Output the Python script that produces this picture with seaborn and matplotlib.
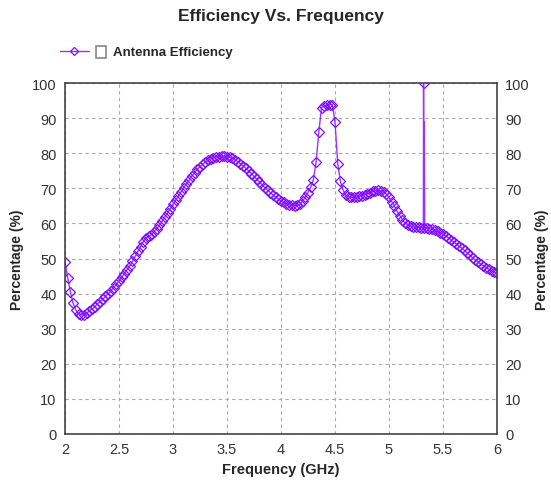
import numpy as np
import pandas as pd
import matplotlib
matplotlib.use('Agg')
import matplotlib.pyplot as plt
from matplotlib.patches import Rectangle
import seaborn as sns

# частотная сетка (ГГц) и КПД антенны (%)
freq = np.round(np.arange(2.0, 6.0001, 0.025), 3)
efficiency = [
    48.9, 44.5, 40.5, 37.2, 35.3, 34.3, 33.9, 34.0, 34.4, 35.0,
    35.6, 36.3, 37.0, 37.7, 38.4, 39.2, 40.0, 40.8, 41.7, 42.6,
    43.6, 44.6, 45.7, 46.8, 47.9, 49.2, 50.6, 52.0, 53.4, 54.8,
    55.8, 56.3, 56.8, 57.6, 58.5, 59.5, 60.6, 61.8, 63.0, 64.2,
    65.4, 66.6, 67.8, 69.0, 70.2, 71.3, 72.4, 73.5, 74.5, 75.4,
    76.2, 76.9, 77.5, 78.0, 78.4, 78.7, 78.9, 79.0, 79.1, 79.1,
    79.0, 78.8, 78.5, 78.1, 77.6, 77.0, 76.4, 75.7, 75.0, 74.2,
    73.4, 72.6, 71.8, 71.0, 70.2, 69.5, 68.8, 68.1, 67.5, 66.9,
    66.4, 66.0, 65.6, 65.3, 65.1, 65.0, 65.1, 65.5, 66.3, 67.5,
    68.8, 70.3, 72.5, 77.5, 86.0, 93.0, 93.5, 93.6, 93.8, 93.8,
    89.0, 77.0, 72.0, 69.5, 68.0, 67.5, 67.4, 67.4, 67.5, 67.7,
    67.9, 68.2, 68.5, 68.8, 69.1, 69.3, 69.4, 69.3, 69.0, 68.4,
    67.4, 66.2, 64.9, 63.5, 62.2, 61.0, 60.1, 59.5, 59.2, 59.0,
    58.9, 58.9, 58.8, 58.8, 58.7, 58.5, 58.3, 58.0, 57.7, 57.3,
    56.9, 56.4, 55.9, 55.3, 54.7, 54.1, 53.5, 52.9, 52.3, 51.6,
    50.9, 50.2, 49.6, 49.0, 48.4, 47.9, 47.4, 46.9, 46.5, 46.1,
    45.8,
]
# одиночный выброс около 5.32 ГГц
spike_freq = [5.318, 5.320, 5.323, 5.327, 5.331]
spike_eff = [58.8, 100.0, 68.0, 89.0, 58.8]

x_ticks = [2, 2.5, 3, 3.5, 4, 4.5, 5, 5.5, 6]
x_labels = ['2', '2.5', '3', '3.5', '4', '4.5', '5', '5.5', '6']
y_ticks = list(range(0, 101, 10))

df = pd.concat([
    pd.DataFrame({'Frequency': freq, 'Efficiency': efficiency, 'spike': False}),
    pd.DataFrame({'Frequency': spike_freq, 'Efficiency': spike_eff, 'spike': True}),
]).sort_values('Frequency').reset_index(drop=True)
# на выбросе маркер только у вершины
df.loc[df['spike'] & (df['Efficiency'] == 100.0), 'spike'] = False
show_marker = list(df.index[~df['spike']])

sns.set_style('white')
plt.rcParams['font.family'] = ['Liberation Sans', 'DejaVu Sans']

purple = '#9933ff'
fig = plt.figure(figsize=(5.51, 4.85), dpi=100)
ax = fig.add_axes([65 / 551, 50 / 485, 432 / 551, 351 / 485])

sns.lineplot(data=df, x='Frequency', y='Efficiency', ax=ax, sort=False,
             color=purple, linewidth=1.0, marker='D', markersize=5.5,
             markerfacecolor='none', markeredgecolor='#8010ff',
             markeredgewidth=0.9, label='Antenna Efficiency')
ax.lines[0].set_markevery(show_marker)

ax.set_xlim(2, 6)
ax.set_ylim(0, 100)
ax.set_xticks(x_ticks)
ax.set_xticklabels(x_labels)
ax.set_yticks(y_ticks)
ax.grid(True, color='#aaaaaa', linestyle=(0, (3, 3)), linewidth=0.8)
ax.tick_params(length=0, labelsize=10.5, colors='#333333', pad=6)
ax.tick_params(axis='y', labelright=True, right=True)
for sp in ax.spines.values():
    sp.set_color('#444444')
    sp.set_linewidth(1.2)

ax.set_xlabel('Frequency (GHz)', fontsize=10.5, fontweight='bold', labelpad=4)
ax.set_ylabel('Percentage (%)', fontsize=10, fontweight='bold', labelpad=6)
ax2 = ax.secondary_yaxis('right')
ax2.set_yticks([])
ax2.set_ylabel('Percentage (%)', fontsize=10, fontweight='bold', labelpad=27)
ax2.spines['right'].set_visible(False)

fig.suptitle('Efficiency Vs. Frequency', x=0.51, y=0.982, fontsize=12.5, fontweight='bold')

leg = ax.legend(loc='center left', bbox_to_anchor=(-0.012, 1.088), frameon=False,
                fontsize=9.5, handlelength=2.2, handletextpad=1.8,
                borderpad=0, borderaxespad=0, markerscale=0.8)
for t in leg.get_texts():
    t.set_fontweight('bold')
fig.patches.append(Rectangle((96 / 551, 1 - 59 / 485), 10 / 551, 12 / 485,
                             transform=fig.transFigure, fill=False,
                             edgecolor='#888888', linewidth=1.2))

fig.savefig('out.png', dpi=100)
